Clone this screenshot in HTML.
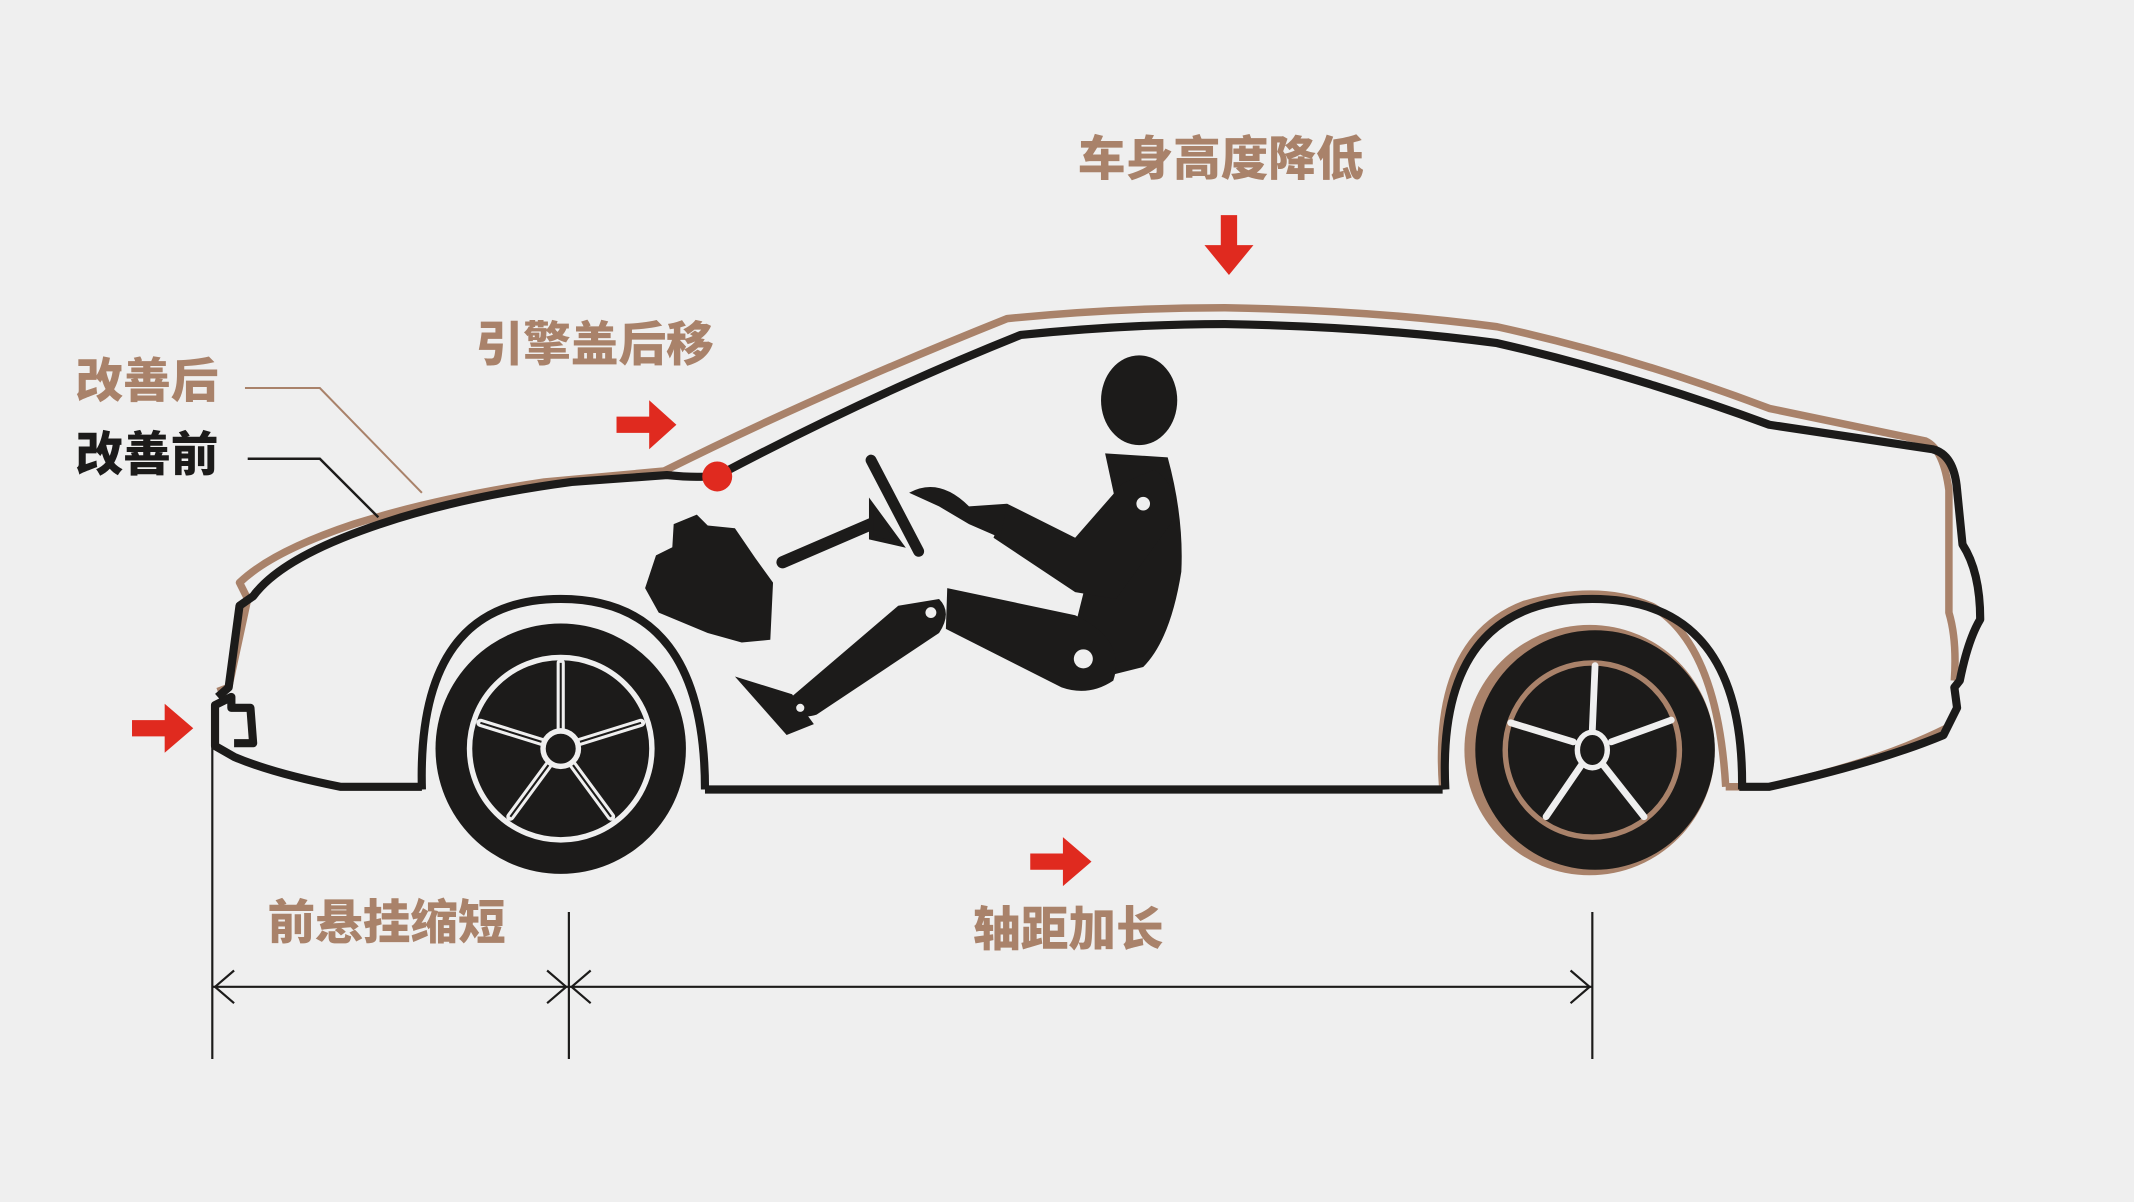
<!DOCTYPE html>
<html><head><meta charset="utf-8"><style>
html,body{margin:0;padding:0;background:#efefef;}
svg{display:block}
text{font-family:"Liberation Sans","Noto Sans CJK SC",sans-serif;font-weight:900;}
</style></head><body>
<svg width="2134" height="1202" viewBox="0 0 1568 883" xmlns="http://www.w3.org/2000/svg">
<rect width="1568" height="883" fill="#efefef"/>
<!-- brown (improved) outline -->
<g fill="none" stroke="#a9826a" stroke-width="5.5" stroke-linejoin="round">
<path d="M160,508 L168,505 L182,440 L176,428 Q200,405 260,385 Q320,366 400,354 L488,346 Q600,290 740,234 Q820,226 900,226 Q1010,228 1100,240 Q1200,262 1300,300 L1415,324 Q1428,330 1432,360 L1432,450 Q1438,470 1436,500"/>
<path d="M1060,578 Q1052,470 1120,444 Q1175,428 1215,446 Q1262,475 1268,578"/>
<path d="M1268,578 L1300,578 Q1380,560 1430,535"/>
</g>
<!-- black (before) outline -->
<g fill="none" stroke="#1c1b1a" stroke-width="6" stroke-linejoin="round">
<path d="M310,578 L250,578 Q200,568 172,556 L158,548 L158,518 L170,512 L170,520 L184,520 L186,546 L172,546"/>
<path d="M160,512 L168,505 L176,445 L186,438 Q205,412 265,390 Q330,366 420,354 L490,349 Q520,352 530,348 Q640,290 750,246 Q830,238 900,238 Q1010,240 1100,252 Q1200,275 1300,312 L1420,330 Q1436,334 1438,360 L1442,400 Q1455,420 1455,455 Q1446,470 1440,500 L1436,505 L1438,520 L1428,540 Q1380,560 1300,578 L1278,578"/>
<path d="M310,580 Q306,440 412,440 Q518,440 518,580"/>
<path d="M518,580 L1060,580"/>
<path d="M1062,580 Q1055,440 1170,440 Q1282,440 1280,580"/>
</g>
<!-- front wheel -->
<g>
<circle cx="412" cy="550" r="92" fill="#1c1b1a"/>
<circle cx="412" cy="550" r="67" fill="none" stroke="#efefef" stroke-width="4"/>
<g stroke="#efefef" stroke-width="6" stroke-linecap="round">
<line x1="412" y1="535" x2="412" y2="487"/>
<line x1="426" y1="545" x2="471" y2="531"/>
<line x1="421" y1="562" x2="449" y2="600"/>
<line x1="403" y1="562" x2="375" y2="600"/>
<line x1="398" y1="545" x2="353" y2="531"/>
</g>
<g stroke="#1c1b1a" stroke-width="1.5">
<line x1="412" y1="535" x2="412" y2="487"/>
<line x1="426" y1="545" x2="471" y2="531"/>
<line x1="421" y1="562" x2="449" y2="600"/>
<line x1="403" y1="562" x2="375" y2="600"/>
<line x1="398" y1="545" x2="353" y2="531"/>
</g>
<circle cx="412" cy="550" r="13" fill="#1c1b1a" stroke="#efefef" stroke-width="4"/>
</g>
<!-- rear wheel -->
<g>
<circle cx="1168" cy="551" r="92" fill="#a9826a"/>
<circle cx="1172" cy="551" r="88" fill="#1c1b1a"/>
<circle cx="1170" cy="551" r="64" fill="none" stroke="#a9826a" stroke-width="4"/>
<g stroke="#efefef" stroke-width="5" stroke-linecap="round">
<line x1="1170" y1="536" x2="1172" y2="489"/>
<line x1="1184" y1="545" x2="1228" y2="529"/>
<line x1="1178" y1="562" x2="1208" y2="600"/>
<line x1="1162" y1="562" x2="1136" y2="600"/>
<line x1="1156" y1="545" x2="1110" y2="531"/>
</g>
<ellipse cx="1170" cy="551" rx="11" ry="13" fill="#1c1b1a" stroke="#efefef" stroke-width="4"/>
</g>
<!-- engine -->
<path d="M495,385 L512,378 L520,386 L540,388 L555,410 L568,428 L566,470 L545,472 L520,465 L484,450 L474,432 L482,408 L494,402 Z" fill="#1c1b1a"/>
<!-- steering -->
<g stroke="#1c1b1a" stroke-linecap="round">
<line x1="640" y1="338" x2="675" y2="405" stroke-width="8"/>
<line x1="575" y1="413" x2="640" y2="385" stroke-width="9"/>
<path d="M640,370 L662,400 L640,395 Z" fill="#1c1b1a" stroke-width="3"/>
</g>
<!-- dummy -->
<g fill="#1c1b1a">
<ellipse cx="837" cy="294" rx="28" ry="33"/>
<path d="M812,333 L858,336 Q870,380 868,420 Q860,470 840,490 L800,500 L790,460 L800,420 L820,370 Z"/>
<path d="M848,345 Q870,360 860,385 L820,440 L790,435 L730,395 L740,370 L790,395 L825,355 Z"/>
<path d="M668,362 Q690,350 712,372 L740,370 L735,395 L712,385 L690,372 Z"/>
<path d="M696,432 L790,452 Q828,470 818,500 Q800,512 780,505 L695,462 Z"/>
<path d="M690,440 Q700,450 690,465 L600,525 Q585,530 578,515 L660,445 Z"/>
<path d="M540,497 L582,510 L598,532 L578,540 Z"/>
</g>
<g fill="#efefef">
<circle cx="840" cy="370" r="5"/><circle cx="796" cy="484" r="7"/><circle cx="684" cy="450" r="4"/><circle cx="588" cy="520" r="3"/>
</g>
<circle cx="527" cy="350" r="11" fill="#e02a1f"/>
<!-- leader lines -->
<polyline points="180,285 235,285 310,362" fill="none" stroke="#a9826a" stroke-width="1.5"/>
<polyline points="182,337 235,337 278,380" fill="none" stroke="#1c1b1a" stroke-width="1.8"/>
<!-- red arrows -->
<g fill="#e02a1f">
<polygon points="897,158 909,158 909,180 921,180 903,202 885,180 897,180"/>
<polygon points="453,306 477,306 477,294 497,312 477,330 477,318 453,318"/>
<polygon points="97,529 121,529 121,517 142,535 121,553 121,541 97,541"/>
<polygon points="757,627 781,627 781,615 802,633 781,651 781,639 757,639"/>
</g>
<!-- dimensions -->
<g stroke="#1c1b1a" stroke-width="1.6" fill="none">
<line x1="156" y1="520" x2="156" y2="778"/>
<line x1="418" y1="670" x2="418" y2="778"/>
<line x1="1170" y1="670" x2="1170" y2="778"/>
<line x1="156" y1="725" x2="1170" y2="725"/>
<polyline points="172,713 158,725 172,737"/>
<polyline points="402,713 416,725 402,737"/>
<polyline points="434,713 420,725 434,737"/>
<polyline points="1154,713 1168,725 1154,737"/>
</g>
<!-- labels -->
<g font-size="35" text-anchor="middle">
<text x="897" y="129" fill="#a9826a">车身高度降低</text>
<text x="437" y="265" fill="#a9826a">引擎盖后移</text>
<text x="108" y="292" fill="#a9826a">改善后</text>
<text x="108" y="346" fill="#1c1b1a">改善前</text>
<text x="284" y="690" fill="#a9826a">前悬挂缩短</text>
<text x="785" y="695" fill="#a9826a">轴距加长</text>
</g>
</svg>
</body></html>
